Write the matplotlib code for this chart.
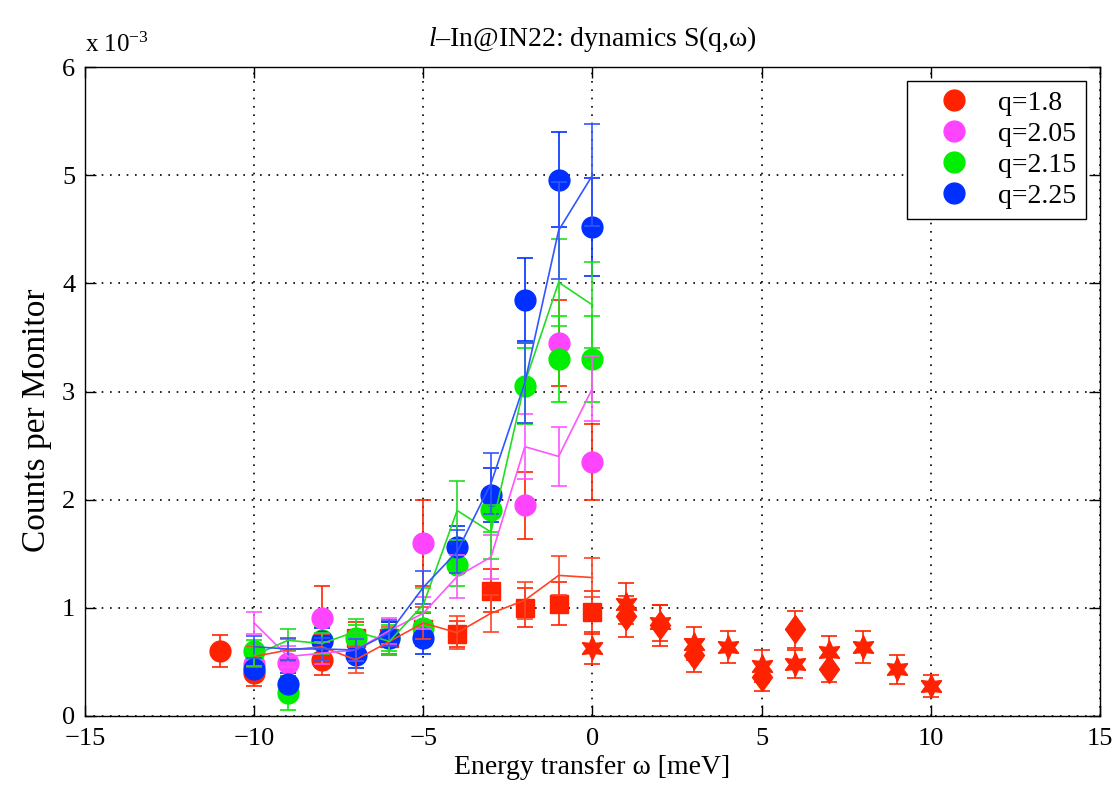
import numpy as np
import matplotlib
matplotlib.use("Agg")
import matplotlib.pyplot as plt
from matplotlib.lines import Line2D

plt.rcParams['font.family'] = ['Liberation Serif', 'DejaVu Serif']
plt.rcParams['mathtext.fontset'] = 'custom'
plt.rcParams['mathtext.rm'] = 'Liberation Serif'
plt.rcParams['mathtext.it'] = 'Liberation Serif:italic'

# --- data (units of 1e-3 counts per monitor) ---
# circles, one set per q
red_cx = [-11, -10, -8]
red_cy = [0.60, 0.40, 0.52]
red_ce = [0.15, 0.12, 0.14]

mag_cx = [-10, -9, -8, -5, -2, -1, 0]
mag_cy = [0.48, 0.49, 0.91, 1.60, 1.95, 3.45, 2.35]
mag_ce = [0.12, 0.12, 0.29, 0.40, 0.31, 0.40, 0.35]

grn_cx = [-10, -9, -8, -7, -6, -5, -4, -3, -2, -1, 0]
grn_cy = [0.60, 0.21, 0.70, 0.72, 0.72, 0.81, 1.40, 1.90, 3.05, 3.30, 3.30]
grn_ce = [0.10, 0.15, 0.12, 0.12, 0.12, 0.15, 0.20, 0.20, 0.35, 0.40, 0.40]

blu_cx = [-10, -9, -8, -7, -6, -5, -4, -3, -2, -1, 0]
blu_cy = [0.43, 0.30, 0.69, 0.56, 0.72, 0.72, 1.56, 2.04, 3.85, 4.96, 4.52]
blu_ce = [0.10, 0.10, 0.12, 0.12, 0.15, 0.15, 0.20, 0.25, 0.38, 0.44, 0.45]

# lines with error bars (no markers)
line_x = [-10, -9, -8, -7, -6, -5, -4, -3, -2, -1, 0]
red_ly = [0.55, 0.61, 0.64, 0.52, 0.69, 0.86, 0.77, 0.95, 1.07, 1.30, 1.28]
red_le = [0.10, 0.10, 0.12, 0.12, 0.13, 0.15, 0.15, 0.17, 0.17, 0.18, 0.18]
mag_ly = [0.86, 0.55, 0.58, 0.61, 0.79, 0.95, 1.29, 1.47, 2.49, 2.40, 3.03]
mag_le = [0.10, 0.10, 0.10, 0.10, 0.12, 0.15, 0.20, 0.20, 0.30, 0.27, 0.30]
grn_ly = [0.56, 0.70, 0.67, 0.78, 0.69, 1.03, 1.90, 1.70, 3.08, 4.01, 3.80]
grn_le = [0.10, 0.10, 0.10, 0.12, 0.12, 0.15, 0.27, 0.25, 0.37, 0.40, 0.40]
blu_ly = [0.64, 0.62, 0.62, 0.61, 0.77, 1.19, 1.52, 2.15, 3.08, 4.49, 5.00]
blu_le = [0.10, 0.10, 0.10, 0.10, 0.12, 0.15, 0.20, 0.28, 0.37, 0.45, 0.47]

# red squares, hexagrams, diamonds (q=1.8, other settings)
sq_x = [-7, -6, -5, -4, -3, -2, -1, 0]
sq_y = [0.72, 0.72, 0.80, 0.76, 1.16, 1.00, 1.04, 0.96]
sq_e = [0.15, 0.15, 0.15, 0.12, 0.20, 0.18, 0.20, 0.20]

star_x = [0, 1, 2, 3, 4, 5, 6, 7, 8, 9, 10]
star_y = [0.63, 1.04, 0.86, 0.67, 0.64, 0.46, 0.48, 0.59, 0.64, 0.43, 0.28]
star_e = [0.15, 0.19, 0.17, 0.15, 0.15, 0.15, 0.13, 0.15, 0.15, 0.13, 0.10]

dia_x = [1, 2, 3, 5, 6, 7]
dia_y = [0.92, 0.84, 0.56, 0.36, 0.80, 0.43]
dia_e = [0.19, 0.19, 0.15, 0.13, 0.17, 0.12]

q_labels = ['q=1.8', 'q=2.05', 'q=2.15', 'q=2.25']

c_red = '#ff2200'
c_mag = '#ff44ff'
c_grn = '#00ee00'
c_blu = '#0030ff'

fig = plt.figure(figsize=(11.14, 7.85), dpi=100)
ax = fig.add_axes([0.0763, 0.0879, 0.9111, 0.8267])

eb = dict(capsize=6, elinewidth=1.2, capthick=1.2, linestyle='none')

# squares (behind circles)
ax.errorbar(sq_x, sq_y, yerr=sq_e, marker='s', ms=13, color=c_red, mec=c_red, **eb, zorder=2)

# circles
ax.errorbar(red_cx, red_cy, yerr=red_ce, marker='o', ms=15, color=c_red, **eb, zorder=3)
ax.errorbar(mag_cx, mag_cy, yerr=mag_ce, marker='o', ms=15, color=c_mag, ecolor=c_red, **eb, zorder=3)
ax.errorbar(grn_cx, grn_cy, yerr=grn_ce, marker='o', ms=15, color=c_grn, **eb, zorder=3)
ax.errorbar(blu_cx, blu_cy, yerr=blu_ce, marker='o', ms=15, color=c_blu, **eb, zorder=3)

# lines
lk = dict(capsize=6, elinewidth=1.2, capthick=1.2, lw=1.2, zorder=4)
ax.errorbar(line_x, red_ly, yerr=red_le, color='#ff4422', **lk)
ax.errorbar(line_x, mag_ly, yerr=mag_le, color='#ff55ff', **lk)
ax.errorbar(line_x, grn_ly, yerr=grn_le, color='#22dd22', **lk)
ax.errorbar(line_x, blu_ly, yerr=blu_le, color='#3355ff', **lk)

# positive energy side
diamond = [(0, 1), (0.72, 0), (0, -1), (-0.72, 0), (0, 1)]
ax.errorbar(star_x, star_y, yerr=star_e, marker=(6, 1, 0), ms=17, color=c_red, **eb, zorder=3)
ax.errorbar(dia_x, dia_y, yerr=dia_e, marker=diamond, ms=20, color=c_red, **eb, zorder=3)

ax.set_xlim(-15, 15)
ax.set_ylim(0, 6)
ax.set_xticks(range(-15, 16, 5))
ax.set_yticks(range(0, 7))
ax.set_yticklabels([str(v) for v in range(0, 7)])
ax.tick_params(direction='in', length=8, width=1, top=True, right=True, labelsize=19)
ax.tick_params(axis='x', pad=9)
ax.tick_params(axis='y', pad=7)
ax.grid(True, color='black', linestyle=(0, (1, 4)), linewidth=1.2)
for s in ax.spines.values():
    s.set_linewidth(1.0)

ax.set_xlabel('Energy transfer ω [meV]', fontsize=20, labelpad=3)
ax.set_ylabel('Counts per Monitor', fontsize=24)
ax.yaxis.set_label_coords(-0.033, 0.455)
ax.set_title(r'$\it{l}$–In@IN22: dynamics S(q,ω)', fontsize=20, pad=15)
fig.text(0.0763, 0.928, r'x 10$^{-3}$', fontsize=18, ha='left', va='bottom')

handles = [Line2D([], [], marker='o', ms=15, color=c, linestyle='none')
           for c in [c_red, c_mag, c_grn, c_blu]]
leg = ax.legend(handles, q_labels, loc='upper right', fontsize=20, fancybox=False,
                edgecolor='black', framealpha=1, borderpad=0.35, handletextpad=0.25,
                labelspacing=0.2, borderaxespad=0.5, handlelength=2.7)
leg.get_frame().set_linewidth(1.0)

fig.savefig('out.png', dpi=100)
